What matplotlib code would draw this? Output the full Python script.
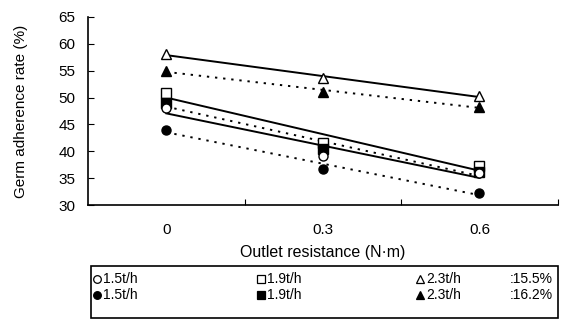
import numpy as np
import matplotlib.pyplot as plt
from matplotlib.patches import Rectangle

plt.rcParams['font.family'] = ['Liberation Sans', 'DejaVu Sans']

# Outlet resistance categories
categories = ['0', '0.3', '0.6']

# Germ adherence rate (%) - open markers: 15.5% moisture, filled: 16.2%
open_15 = [48.0, 39.2, 36.0]
open_19 = [50.8, 41.6, 37.2]
open_23 = [58.1, 53.6, 50.3]
fill_15 = [44.0, 36.8, 32.3]
fill_19 = [49.0, 40.5, 36.1]
fill_23 = [55.0, 51.0, 48.3]

fig = plt.figure(figsize=(5.66, 3.2), dpi=100)
ax = fig.add_axes([0.1555, 0.359, 0.83, 0.588])

x = np.arange(len(categories))

series = [
    (open_23, '^', 'white', '-'),
    (fill_23, '^', 'black', ':'),
    (open_19, 's', 'white', '-'),
    (fill_19, 's', 'black', ':'),
    (open_15, 'o', 'white', '-'),
    (fill_15, 'o', 'black', ':'),
]

# linear trend lines first, markers on top
for vals, mk, fc, ls in series:
    k, b = np.polyfit(x, vals, 1)
    line, = ax.plot(x, k * x + b, color='black', lw=1.4, zorder=2)
    if ls == ':':
        line.set_dashes((1.2, 3.0))
for vals, mk, fc, ls in series:
    ax.plot(x, vals, linestyle='none', marker=mk, markersize=6.5,
            markerfacecolor=fc, markeredgecolor='black', markeredgewidth=1.0, zorder=3)

ax.set_xlim(-0.5, 2.5)
ax.set_ylim(30, 65)
ax.set_yticks(np.arange(30, 66, 5))
ax.set_xticks([0.5, 1.5, 2.5])
ax.set_xticklabels([])
ax.tick_params(axis='y', direction='in', length=4, labelsize=11, pad=9)
ax.tick_params(axis='x', direction='in', length=4)
for i, c in enumerate(categories):
    ax.text(i, 26.6, c, ha='center', va='top', fontsize=11)
ax.spines['top'].set_visible(False)
ax.spines['right'].set_visible(False)
ax.spines['left'].set_linewidth(1.2)
ax.spines['bottom'].set_linewidth(1.2)
ax.set_xlabel('Outlet resistance (N·m)', fontsize=11.5, labelpad=25)
ax.set_ylabel('Germ adherence rate (%)', fontsize=11, labelpad=22)

# legend box drawn below the axes
lax = fig.add_axes([0, 0, 1, 1])
lax.set_xlim(0, 566)
lax.set_ylim(320, 0)
lax.axis('off')
lax.add_patch(Rectangle((91, 266), 467, 52, fill=False, lw=1.2, edgecolor='black'))
rows = [('white', 279, ':15.5%'), ('black', 295, ':16.2%')]
cols = [('o', '1.5t/h', 97), ('s', '1.9t/h', 261), ('^', '2.3t/h', 420)]
for fc, yy, tag in rows:
    for mk, lab, xx in cols:
        lax.plot([xx], [yy], marker=mk, markersize=5.5, markerfacecolor=fc,
                 markeredgecolor='black', markeredgewidth=0.9, linestyle='none')
        lax.text(xx + 6, yy, lab, ha='left', va='center', fontsize=10)
    lax.text(510, yy, tag, ha='left', va='center', fontsize=10)

fig.savefig('out.png', dpi=100)
